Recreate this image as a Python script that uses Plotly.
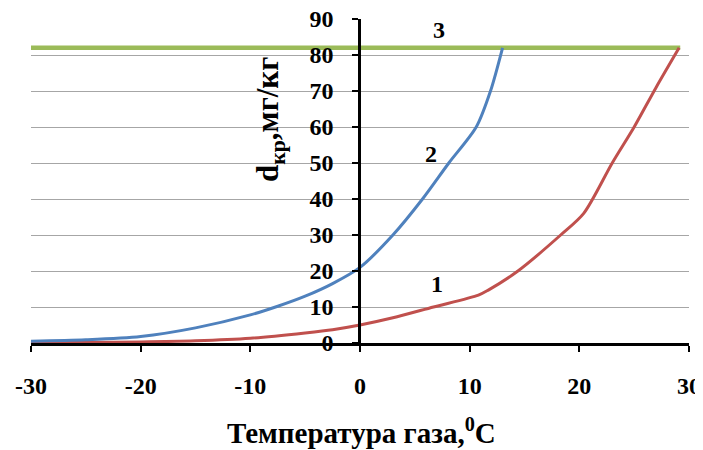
import plotly.graph_objects as go

# Curve 1 (red)
x1 = [-30, -25, -20, -15, -10, -5, -2.5, 0, 3, 6.7, 10.8, 11.7, 14.4, 18.3, 20.4, 23, 25, 27, 29.1]
y1 = [0.1, 0.2, 0.3, 0.6, 1.3, 2.8, 3.7, 5, 7, 10, 13.3, 14.7, 20, 30, 36, 50, 60, 71, 82]
# Curve 2 (blue)
x2 = [-30, -25, -20, -15, -10, -7.5, -5, -2.5, 0, 3, 5.7, 8.1, 10.6, 11.9, 13]
y2 = [0.5, 0.9, 1.8, 4.2, 7.8, 10.2, 13, 16.5, 21, 30, 40, 50, 60, 70, 82]
# Line 3 (green)
x3 = [-30, 29.2]
y3 = [82, 82]

xticks = [-30, -20, -10, 0, 10, 20, 30]
xticktext = ["-30", "-20", "-10", "0", "10", "20", "30"]
yticks = [0, 10, 20, 30, 40, 50, 60, 70, 80, 90]

labels = ["1", "2", "3"]
label_x = [7, 6.5, 7.2]
label_y = [16.5, 52.5, 87]

FONT = "Liberation Serif"
# page body has an 8px margin; plot area in window: x 31..689, y 19..343
OFF = 8
L, T, PW, PH = 31 - OFF, 19 - OFF, 658, 324
W, H = 703 - OFF, 450 - OFF

fig = go.Figure()
fig.add_trace(go.Scatter(x=x3, y=y3, mode="lines", line=dict(color="#9bbb59", width=4.5), showlegend=False))
fig.add_trace(go.Scatter(x=x1, y=y1, mode="lines", line=dict(color="#c0504d", width=3, shape="spline", smoothing=0.8), showlegend=False))
fig.add_trace(go.Scatter(x=x2, y=y2, mode="lines", line=dict(color="#4f81bd", width=3, shape="spline", smoothing=0.8), showlegend=False))

for t, lx, ly in zip(labels, label_x, label_y):
    fig.add_annotation(x=lx, y=ly, text="<b>%s</b>" % t, showarrow=False,
                       font=dict(family=FONT, size=24, color="black"))

fig.add_annotation(xref="paper", yref="paper", x=(361 - 31) / PW, y=-(431 - 343) / PH,
                   text="<b>Температура газа,<sup>0</sup>C</b>", showarrow=False,
                   font=dict(family=FONT, size=29, color="black"), yanchor="middle")
fig.add_annotation(xref="paper", yref="paper", x=(270 - 31) / PW, y=(343 - 120) / PH,
                   text="<b>d<sub>кр</sub>,мг/кг</b>", showarrow=False, textangle=-90,
                   font=dict(family=FONT, size=31, color="black"), xanchor="center", yanchor="middle")

fig.update_layout(
    width=W, height=H,
    margin=dict(l=L, r=W - L - PW, t=T, b=H - T - PH, pad=0),
    paper_bgcolor="white", plot_bgcolor="white",
    xaxis=dict(range=[-30, 30], tickvals=xticks, ticktext=xticktext, ticks="outside", ticklen=6, tickwidth=2,
               tickcolor="black", showline=True, linecolor="black", linewidth=2.5,
               showgrid=False, zeroline=False, ticklabelstandoff=13, automargin=False,
               ticklabeloverflow="allow",
               tickfont=dict(family=FONT, size=24, color="black", weight="bold")),
    yaxis=dict(range=[0, 90], tickvals=yticks, ticks="outside", ticklen=6, tickwidth=2,
               tickcolor="black", showline=True, linecolor="black", linewidth=2.5,
               anchor="free", position=(359 - 31) / PW, automargin=False,
               ticklabeloverflow="allow",
               showgrid=True, gridcolor="#a6a6a6", gridwidth=1.3, zeroline=False,
               ticklabelstandoff=14,
               tickfont=dict(family=FONT, size=24, color="black", weight="bold")),
)

fig.write_html("out.html")
